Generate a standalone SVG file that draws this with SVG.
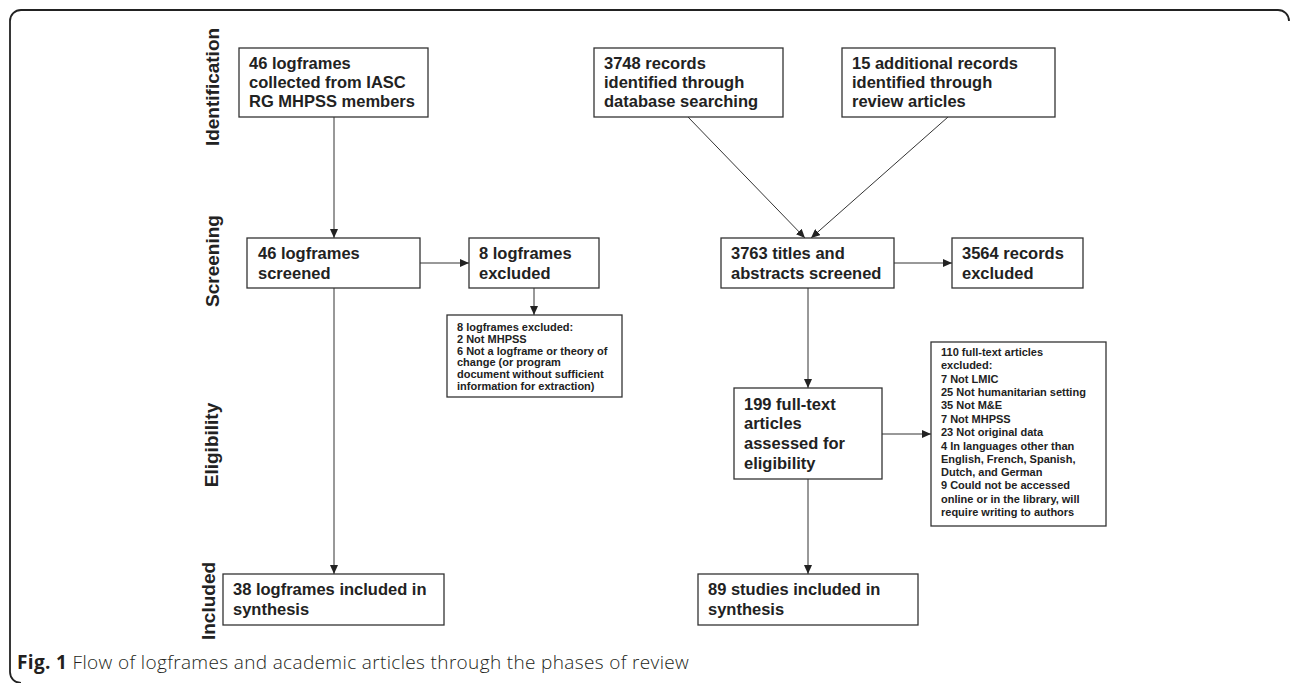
<svg xmlns="http://www.w3.org/2000/svg" width="1290" height="683" viewBox="0 0 1290 683">
<defs>
<style>
.box{fill:#fff;stroke:#333;stroke-width:1.3}
.t{font-family:"Liberation Sans",Arial,sans-serif;font-weight:bold;font-size:16.5px;fill:#222}
.s{font-family:"Liberation Sans",Arial,sans-serif;font-weight:bold;font-size:11px;fill:#222}
.ph{font-family:"Liberation Sans",Arial,sans-serif;font-weight:bold;font-size:19px;fill:#222;text-anchor:middle}
.c{stroke:#333;stroke-width:1;fill:none;marker-end:url(#ah)}
.cap{font-family:"Open Sans","Noto Sans",sans-serif;font-size:19px;fill:#231f20;font-weight:300;letter-spacing:0.35px}
</style>
<marker id="ah" markerUnits="userSpaceOnUse" markerWidth="9" markerHeight="8" refX="9" refY="4" orient="auto">
<path d="M0,0 L9,4 L0,8 z" fill="#222"/>
</marker>
</defs>
<rect width="1290" height="683" fill="#fff"/>
<path d="M1289,21 A11,11 0 0 0 1278,10 L21,10 A11,11 0 0 0 10,21 L10,672 A11,11 0 0 0 21,683" fill="none" stroke="#222" stroke-width="1.8"/>

<g id="phases">
<text class="ph" transform="translate(219,87) rotate(-90)">Identification</text>
<text class="ph" transform="translate(219,261) rotate(-90)">Screening</text>
<text class="ph" transform="translate(218,445) rotate(-90)">Eligibility</text>
<text class="ph" transform="translate(215,601) rotate(-90)">Included</text>
</g>

<g id="connectors">
<line class="c" x1="334" y1="117" x2="334" y2="238"/>
<line class="c" x1="334" y1="288" x2="334" y2="574"/>
<line class="c" x1="420" y1="263" x2="469" y2="263"/>
<line class="c" x1="534" y1="288" x2="534" y2="315"/>
<line class="c" x1="688" y1="117" x2="805" y2="238"/>
<line class="c" x1="948" y1="117" x2="811" y2="238"/>
<line class="c" x1="894" y1="263" x2="952" y2="263"/>
<line class="c" x1="808" y1="288" x2="808" y2="388"/>
<line class="c" x1="882" y1="434" x2="931" y2="434"/>
<line class="c" x1="808" y1="479" x2="808" y2="574"/>
</g>

<g id="nodeA">
<rect class="box" x="239" y="48" width="189" height="69"/>
<text class="t" x="249" y="69">46 logframes</text>
<text class="t" x="249" y="88">collected from IASC</text>
<text class="t" x="249" y="107">RG MHPSS members</text>
</g>
<g id="nodeB">
<rect class="box" x="594" y="48" width="189" height="69"/>
<text class="t" x="604" y="69">3748 records</text>
<text class="t" x="604" y="88">identified through</text>
<text class="t" x="604" y="107">database searching</text>
</g>
<g id="nodeC">
<rect class="box" x="842" y="48" width="213" height="69"/>
<text class="t" x="852" y="69">15 additional records</text>
<text class="t" x="852" y="88">identified through</text>
<text class="t" x="852" y="107">review articles</text>
</g>
<g id="nodeD">
<rect class="box" x="247" y="238" width="173" height="50"/>
<text class="t" x="258" y="259">46 logframes</text>
<text class="t" x="258" y="279">screened</text>
</g>
<g id="nodeE">
<rect class="box" x="469" y="238" width="130" height="50"/>
<text class="t" x="479" y="259">8 logframes</text>
<text class="t" x="479" y="279">excluded</text>
</g>
<g id="nodeF">
<rect class="box" x="721" y="238" width="173" height="50"/>
<text class="t" x="731" y="259">3763 titles and</text>
<text class="t" x="731" y="279">abstracts screened</text>
</g>
<g id="nodeG">
<rect class="box" x="952" y="238" width="131" height="50"/>
<text class="t" x="962" y="259">3564 records</text>
<text class="t" x="962" y="279">excluded</text>
</g>
<g id="nodeH">
<rect class="box" x="447" y="315" width="175" height="82"/>
<text class="s" x="457" y="331">8 logframes excluded:</text>
<text class="s" x="457" y="343">2 Not MHPSS</text>
<text class="s" x="457" y="355">6 Not a logframe or theory of</text>
<text class="s" x="457" y="366">change (or program</text>
<text class="s" x="457" y="378">document without sufficient</text>
<text class="s" x="457" y="390">information for extraction)</text>
</g>
<g id="nodeI">
<rect class="box" x="734" y="388" width="148" height="91"/>
<text class="t" x="744" y="410">199 full-text</text>
<text class="t" x="744" y="429">articles</text>
<text class="t" x="744" y="449">assessed for</text>
<text class="t" x="744" y="469">eligibility</text>
</g>
<g id="nodeJ">
<rect class="box" x="931" y="342" width="175" height="184"/>
<text class="s" x="941" y="356">110  full-text articles</text>
<text class="s" x="941" y="369">excluded:</text>
<text class="s" x="941" y="383">7 Not LMIC</text>
<text class="s" x="941" y="396">25 Not humanitarian setting</text>
<text class="s" x="941" y="409">35 Not M&amp;E</text>
<text class="s" x="941" y="423">7 Not MHPSS</text>
<text class="s" x="941" y="436">23 Not original data</text>
<text class="s" x="941" y="450">4 In languages other than</text>
<text class="s" x="941" y="463">English, French, Spanish,</text>
<text class="s" x="941" y="476">Dutch, and German</text>
<text class="s" x="941" y="489">9 Could not be accessed</text>
<text class="s" x="941" y="503">online or in the library, will</text>
<text class="s" x="941" y="516">require writing to authors</text>
</g>
<g id="nodeL">
<rect class="box" x="223" y="574" width="221" height="51"/>
<text class="t" x="233" y="595">38 logframes included in</text>
<text class="t" x="233" y="615">synthesis</text>
</g>
<g id="nodeK">
<rect class="box" x="698" y="574" width="220" height="51"/>
<text class="t" x="708" y="595">89 studies included in</text>
<text class="t" x="708" y="615">synthesis</text>
</g>

<text class="cap" x="17" y="669"><tspan font-weight="bold">Fig. 1</tspan> Flow of logframes and academic articles through the phases of review</text>
</svg>
